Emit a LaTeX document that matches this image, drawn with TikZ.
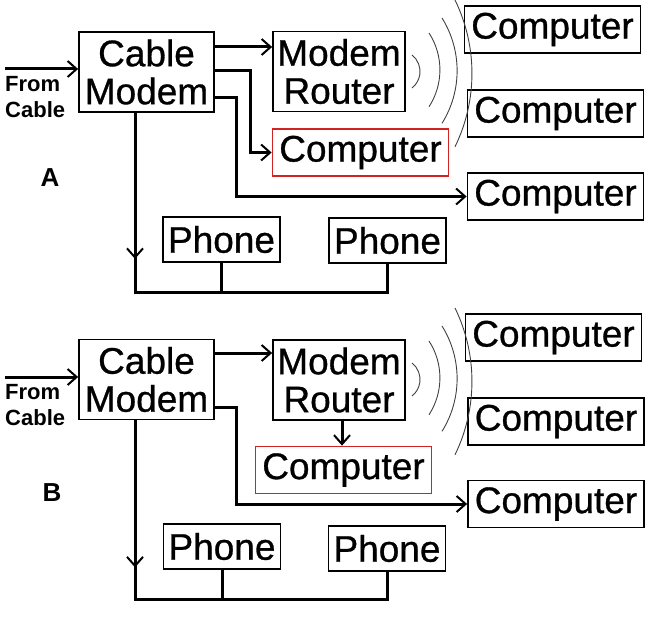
\documentclass[tikz,border=0pt]{standalone}
\usepackage{fontspec}
\setmainfont{Liberation Sans}
\newfontfamily\boxfont{Liberation Sans}[FakeBold=0.8]
\usetikzlibrary{arrows.meta, positioning, calc}
\definecolor{boxred}{RGB}{210,35,35}
\tikzset{
  box/.style={draw, line width=1.8pt, inner sep=0pt, align=center,
    font=\boxfont\fontsize{37}{38}\selectfont},
  modem/.style={box, minimum width=#1, minimum height=80pt},
  pc/.style={box, minimum width=176pt, minimum height=47pt},
  phone/.style={box, minimum width=117pt, minimum height=45pt},
  src/.style={inner sep=0pt, align=left, font=\bfseries\fontsize{22}{26}\selectfont},
  tag/.style={inner sep=0pt, font=\bfseries\fontsize{26}{26}\selectfont},
  wire/.style={line width=3pt},
  arrow/.style={wire, -{Straight Barb[length=9pt, width=16pt, line width=2pt]}},
  wave/.style={black!75, line width=0.9pt}
}
\begin{document}
\begin{tikzpicture}[x=1pt, y=-1pt]
  \useasboundingbox (0,0) rectangle (650,631);

  % panel A
  \node[modem=135pt] (cmA) at (146.5,72) {Cable\\Modem};
  \node[modem=132pt] (mrA) at (339,71.5) {Modem\\Router};
  \node[pc, draw=boxred] (pcA) at (360.5,152.5) {Computer};
  \node[pc] (c1A) at (552.5,29.5) {Computer};
  \node[pc] (c2A) at (555.5,113.5) {Computer};
  \node[pc] (c3A) at (555.5,196.5) {Computer};
  \node[phone] (ph1A) at (221.5,239.5) {Phone};
  \node[phone] (ph2A) at (387.5,240.5) {Phone};
  \node[src, anchor=north west] (srcA) at (5,76) {From\\Cable};
  \node[tag] (tagA) at (50,178) {A};
  \coordinate (inA) at (5,69);

  \draw[arrow] (inA) -- (inA -| cmA.west);
  \draw[arrow] ([yshift=25pt]cmA.east) -- ([yshift=25pt]cmA.east -| mrA.west);
  \draw[arrow] ([yshift=1pt]cmA.east) -- ++(36,0) |- (pcA.west);
  \draw[arrow] ([yshift=-26pt]cmA.east) -- ++(22,0) |- (c3A.west);
  \draw[arrow] ([xshift=-11.5pt]cmA.south) -- ++(0,146);
  \draw[wire] ([xshift=-11.5pt]cmA.south) -- ++(0,180) coordinate (busA) -| (ph2A.south);
  \draw[wire] (ph1A.south) -- (ph1A.south |- busA);

  % panel B
  \node[modem=135pt] (cmB) at (146.5,379.5) {Cable\\Modem};
  \node[modem=132pt] (mrB) at (339,380) {Modem\\Router};
  \node[pc, draw=boxred] (pcB) at (343.5,470) {Computer};
  \node[pc] (c1B) at (553.5,337.5) {Computer};
  \node[pc] (c2B) at (556,421.5) {Computer};
  \node[pc] (c3B) at (556,504) {Computer};
  \node[phone] (ph1B) at (222,546.5) {Phone};
  \node[phone] (ph2B) at (387,548.5) {Phone};
  \node[src, anchor=north west] (srcB) at (5,384) {From\\Cable};
  \node[tag] (tagB) at (52,493) {B};
  \coordinate (inB) at (5,377);

  \draw[arrow] (inB) -- (inB -| cmB.west);
  \draw[arrow] ([yshift=26.5pt]cmB.east) -- ([yshift=26.5pt]cmB.east -| mrB.west);
  \draw[arrow] ([yshift=-27.5pt]cmB.east) -- ++(22,0) |- (c3B.west);
  \draw[arrow] ([xshift=3pt]mrB.south) -- ([xshift=3pt]mrB.south |- pcB.north);
  \draw[arrow] ([xshift=-11.5pt]cmB.south) -- ++(0,147);
  \draw[wire] ([xshift=-11.5pt]cmB.south) -- ++(0,179) coordinate (busB) -| (ph2B.south);
  \draw[wire] (ph1B.south) -- (ph1B.south |- busB);

  % wireless waves
  \foreach \dy in {0,308}
    \foreach \x/\y/\a/\r in {412/55/51.8/21, 429/33/33/67.7, 442/18/32/99.4, 455/0/26/167.4}
      \draw[wave] (\x,\y+\dy) arc[start angle=\a, end angle=-\a, radius=\r pt];
\end{tikzpicture}
\end{document}
